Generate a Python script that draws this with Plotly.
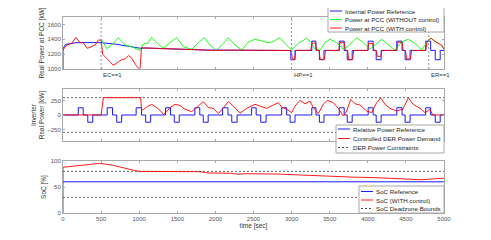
import plotly.graph_objects as go
from plotly.subplots import make_subplots

# ---------------- data ----------------
# top panel: Real Power at PCC [kW]
pcc_ref_t = [0, 0, 30, 170, 300, 500, 680, 860, 1010, 1100, 1300, 1600, 1900, 2200, 2500, 2800,
             2990, 2990, 3045, 3045, 3265, 3265, 3320, 3320, 3365, 3365, 3425, 3425,
             3625, 3625, 3690, 3690, 3730, 3730, 3795, 3795, 4005, 4005, 4070, 4070,
             4110, 4110, 4175, 4175, 4380, 4380, 4450, 4450, 4490, 4490, 4555, 4555,
             4760, 4760, 4825, 4825, 4885, 4885, 4950, 4950, 5000]
pcc_ref_v = [0, 1270, 1330, 1354, 1356, 1354, 1336, 1310, 1280, 1282, 1275, 1262, 1255, 1253, 1250, 1250,
             1250, 1125, 1125, 1250, 1250, 1375, 1375, 1250, 1250, 1125, 1125, 1250,
             1250, 1375, 1375, 1250, 1250, 1125, 1125, 1250, 1250, 1375, 1375, 1250,
             1250, 1125, 1125, 1250, 1250, 1375, 1375, 1250, 1250, 1125, 1125, 1250,
             1250, 1375, 1375, 1250, 1250, 1125, 1125, 1250, 1250]

pcc_noctl_t = [500, 573, 639, 726, 814, 901, 1010, 1054, 1120, 1164, 1230, 1316, 1404, 1492, 1579,
               1689, 1776, 1854, 1929, 2017, 2104, 2170, 2257, 2345, 2432, 2520, 2600, 2695, 2760,
               2848, 2913, 3000, 3088, 3197, 3263, 3307, 3373, 3438, 3504, 3592, 3679, 3744, 3854,
               3941, 4029, 4094, 4182, 4269, 4357, 4445, 4532, 4619, 4707, 4773, 4800, 4830, 4870,
               4925, 4970, 5000]
pcc_noctl_v = [1400, 1275, 1323, 1421, 1323, 1300, 1250, 1336, 1354, 1426, 1354, 1278, 1354, 1421, 1300,
               1265, 1354, 1421, 1323, 1250, 1345, 1421, 1323, 1256, 1363, 1400, 1380, 1354, 1370,
               1421, 1345, 1256, 1345, 1412, 1354, 1265, 1256, 1354, 1400, 1354, 1265, 1310, 1421,
               1354, 1265, 1323, 1400, 1323, 1256, 1363, 1400, 1345, 1256, 1354, 1390, 1415, 1380,
               1345, 1320, 1265]

pcc_ctl_t = [0, 48, 114, 171, 223, 267, 319, 376, 420, 464, 500, 520, 560, 620, 660, 700, 760, 820,
             860, 900, 950, 990, 1010, 1030, 1200, 1400, 1600, 1800, 2000, 2200, 2400, 2600, 2800,
             2995, 3010, 3040, 3055, 3250, 3270, 3310, 3330, 3360, 3375, 3430, 3445, 3620, 3635,
             3690, 3705, 3735, 3750, 3800, 3815, 4000, 4010, 4065, 4080, 4110, 4125, 4170, 4185,
             4380, 4395, 4450, 4465, 4495, 4510, 4560, 4575, 4760, 4775, 4800, 4830, 4870, 4925,
             4970, 5000]
pcc_ctl_v = [1256, 1323, 1346, 1425, 1354, 1354, 1278, 1300, 1323, 1390, 1390, 1200, 1160, 1090, 1050,
             1075, 1120, 1140, 1180, 1150, 1060, 1010, 1005, 1285, 1280, 1270, 1262, 1258, 1250, 1255,
             1250, 1245, 1250, 1248, 1140, 1130, 1250, 1252, 1350, 1350, 1250, 1250, 1130, 1130, 1250,
             1250, 1355, 1355, 1250, 1250, 1125, 1125, 1250, 1250, 1345, 1345, 1250, 1250, 1170,
             1170, 1250, 1250, 1360, 1360, 1250, 1250, 1135, 1135, 1250, 1250, 1354, 1390, 1415,
             1380, 1345, 1320, 1265]

event_t = [500, 3000, 4800]
event_labels = ["EC==1", "HP==1", "ER==1"]

# middle panel: Inverter Real Power [kW]
rel_ref_t = [0, 200, 265, 325, 390, 580, 650, 705, 770, 960, 1030, 1085, 1150, 1345, 1410, 1460,
             1525, 1730, 1795, 1840, 1905, 2095, 2165, 2215, 2285, 2475, 2535, 2595, 2665, 2870,
             2935, 2980, 3045, 3265, 3320, 3365, 3425, 3625, 3690, 3730, 3795, 4005, 4070, 4110,
             4175, 4380, 4450, 4490, 4555, 4760, 4825, 4885, 4950, 5000]
rel_ref_v = [0, 125, 0, -125, 0, 125, 0, -125, 0, 125, 0, -125, 0, 125, 0, -125,
             0, 125, 0, -125, 0, 125, 0, -125, 0, 125, 0, -125, 0, 125,
             0, -125, 0, 125, 0, -125, 0, 125, 0, -125, 0, 125, 0, -125,
             0, 125, 0, -125, 0, 125, 0, -125, 0, 0]

der_t = [0, 500, 530, 1020, 1030, 1060, 1110, 1164, 1230, 1273, 1317, 1360, 1404, 1470, 1535, 1601,
         1689, 1755, 1800, 1842, 1907, 1973, 2039, 2104, 2170, 2236, 2323, 2410, 2470, 2520, 2585,
         2672, 2760, 2826, 2870, 2936, 3001, 3045, 3110, 3176, 3241, 3285, 3350, 3416, 3469, 3547,
         3613, 3679, 3723, 3775, 3832, 3898, 3985, 4050, 4116, 4169, 4226, 4291, 4379, 4458, 4532,
         4597, 4685, 4751, 4816, 4852, 5000]
der_v = [0, 0, 300, 300, 81, 98, 150, 184, 127, 81, 12, 58, 127, 184, 167, 98,
         58, 127, 170, 230, 127, 115, 23, 127, 230, 155, 30, 115, 150, 184, 155,
         115, 172, 213, 138, 98, 41, 155, 253, 195, 241, 127, 23, 184, 253, 213,
         115, -17, 69, 270, 195, 172, 69, 41, 213, 295, 184, 115, 69, 98, 295,
         184, 115, 41, 98, 0, 0]

der_limits = [300, -300]

# bottom panel: SoC [%]
soc_ref = 60
soc_t = [0, 0, 200, 480, 650, 800, 960, 1000, 1500, 1800, 1900, 2200, 2300, 2400, 2800, 3100,
         3400, 3600, 3800, 4100, 4300, 4500, 4700, 4900, 5000]
soc_v = [0, 88, 91, 95.5, 92, 86, 81, 80, 79.5, 79.5, 77, 76.5, 74.5, 75.5, 75, 73,
         72, 70, 69, 68, 67, 65, 64, 66, 67]
soc_bounds = [80, 30]

x_ticks = [0, 500, 1000, 1500, 2000, 2500, 3000, 3500, 4000, 4500, 5000]
top_ticks = [1000, 1200, 1400, 1600]
mid_ticks = [-250, 0, 250]
bot_ticks = [0, 50, 100]

# ---------------- figure ----------------
OFF = 8  # page body margin of the browser
W, H = 491 - OFF, 240 - OFF
# plot-area edges in screen pixels
L, R, T, B = 63, 444, 17, 213
FONT = "Liberation Sans"
BLUE, GREEN, RED, DASHC = "#0000ff", "#00ff00", "#ff0000", "#555555"
LW = 0.9


def px(xp, yp):
    return (xp - L) / (R - L), (B - yp) / (B - T)


fig = make_subplots(rows=3, cols=1)

fig.add_trace(go.Scatter(x=pcc_ref_t, y=pcc_ref_v, mode="lines",
                         line=dict(color=BLUE, width=LW)), row=1, col=1)
fig.add_trace(go.Scatter(x=pcc_noctl_t, y=pcc_noctl_v, mode="lines",
                         line=dict(color=GREEN, width=LW)), row=1, col=1)
fig.add_trace(go.Scatter(x=pcc_ctl_t, y=pcc_ctl_v, mode="lines",
                         line=dict(color=RED, width=LW)), row=1, col=1)

for lim in der_limits:
    fig.add_trace(go.Scatter(x=[0, 5000], y=[lim, lim], mode="lines",
                             line=dict(color=DASHC, width=LW, dash="2px,2px")), row=2, col=1)
fig.add_trace(go.Scatter(x=rel_ref_t, y=rel_ref_v, mode="lines", line_shape="hv",
                         line=dict(color=BLUE, width=LW)), row=2, col=1)
fig.add_trace(go.Scatter(x=der_t, y=der_v, mode="lines",
                         line=dict(color=RED, width=LW)), row=2, col=1)

for bnd in soc_bounds:
    fig.add_trace(go.Scatter(x=[0, 5000], y=[bnd, bnd], mode="lines",
                             line=dict(color=DASHC, width=LW, dash="2px,2px")), row=3, col=1)
fig.add_trace(go.Scatter(x=[0, 5000], y=[soc_ref, soc_ref], mode="lines",
                         line=dict(color=BLUE, width=LW)), row=3, col=1)
fig.add_trace(go.Scatter(x=soc_t, y=soc_v, mode="lines",
                         line=dict(color=RED, width=LW)), row=3, col=1)

axis_common = dict(showline=True, mirror="ticks", linecolor="#a8a8a8", linewidth=1,
                   ticks="inside", ticklen=2, tickcolor="#a8a8a8", showgrid=False,
                   zeroline=False, automargin=False,
                   tickfont=dict(family=FONT, size=6, color="#555555"))

# domains
d_top = (px(0, 69)[1], px(0, 17)[1])
d_mid = (px(0, 141)[1], px(0, 89)[1])
d_bot = (px(0, 213)[1], px(0, 161)[1])

for i, dom in zip([1, 2, 3], [d_top, d_mid, d_bot]):
    fig.update_xaxes(range=[0, 5000], tickvals=x_ticks, showticklabels=(i == 3),
                     domain=[0, 1], row=i, col=1, **axis_common)
    fig.update_yaxes(domain=list(dom), row=i, col=1, **axis_common)

TF = dict(family=FONT, size=6.5, color="#333333")
fig.update_yaxes(range=[1000, 1700], tickvals=top_ticks, row=1, col=1,
                 title=dict(text="Real Power at PCC [kW]", standoff=2, font=TF))
fig.update_yaxes(range=[-450, 450], tickvals=mid_ticks, row=2, col=1,
                 title=dict(text="Inverter<br>Real Power [kW]", standoff=1, font=TF))
fig.update_yaxes(range=[0, 100], tickvals=bot_ticks, row=3, col=1,
                 title=dict(text="SoC [%]", standoff=3, font=TF))
fig.update_xaxes(row=3, col=1, title=dict(text="time [sec]", standoff=2, font=TF))

shapes = []
annotations = []

# event markers
for t, lab in zip(event_t, event_labels):
    shapes.append(dict(type="line", xref="x", yref="y domain", x0=t, x1=t, y0=0, y1=1,
                       line=dict(color="#888888", width=LW, dash="2px,2px"), layer="above"))
    annotations.append(dict(x=t, xref="x", y=px(0, 69.5)[1], yref="paper", text=lab,
                            showarrow=False, xanchor="left", yanchor="top", xshift=0,
                            font=dict(family=FONT, size=6, color="#333333")))


def legend(box, items, line_x, text_x):
    x0, y0 = px(box[0], box[1])
    x1, y1 = px(box[2], box[3])
    shapes.append(dict(type="rect", xref="paper", yref="paper", x0=x0, x1=x1, y0=y1, y1=y0,
                       fillcolor="white", line=dict(color="#a8a8a8", width=1), layer="above"))
    for yy, color, dash, text in items:
        lx0, ly = px(line_x[0], yy)
        lx1, _ = px(line_x[1], yy)
        shapes.append(dict(type="line", xref="paper", yref="paper", x0=lx0, x1=lx1, y0=ly, y1=ly,
                           line=dict(color=color, width=LW, dash=dash), layer="above"))
        tx, _ = px(text_x, yy)
        annotations.append(dict(x=tx, y=ly, xref="paper", yref="paper", text=text,
                                showarrow=False, xanchor="left", yanchor="middle",
                                font=dict(family=FONT, size=6.2, color="#222222")))


legend((328, 5, 444, 32),
       [(11, BLUE, "solid", "Internal Power Reference"),
        (19.5, GREEN, "solid", "Power at PCC (WITHOUT control)"),
        (28, RED, "solid", "Power at PCC (WITH control)")],
       (330, 342), 343)
legend((336, 125, 444, 153),
       [(129, BLUE, "solid", "Relative Power Reference"),
        (138.5, RED, "solid", "Controlled DER Power Demand"),
        (147.5, "#333333", "2px,2px", "DER Power Constraints")],
       (338, 350), 351)
legend((359, 186, 444, 213),
       [(191.5, BLUE, "solid", "SoC Reference"),
        (200, RED, "solid", "SoC (WITH control)"),
        (208.5, "#333333", "2px,2px", "SoC Deadzone Bounds")],
       (361, 373), 374)

fig.update_layout(width=W, height=H,
                  margin=dict(l=L - OFF, r=491 - R, t=T - OFF, b=240 - B, autoexpand=False),
                  paper_bgcolor="white", plot_bgcolor="white", showlegend=False,
                  shapes=shapes, annotations=annotations,
                  font=dict(family=FONT, size=6.5, color="#333333"))

fig.write_html("out.html")
